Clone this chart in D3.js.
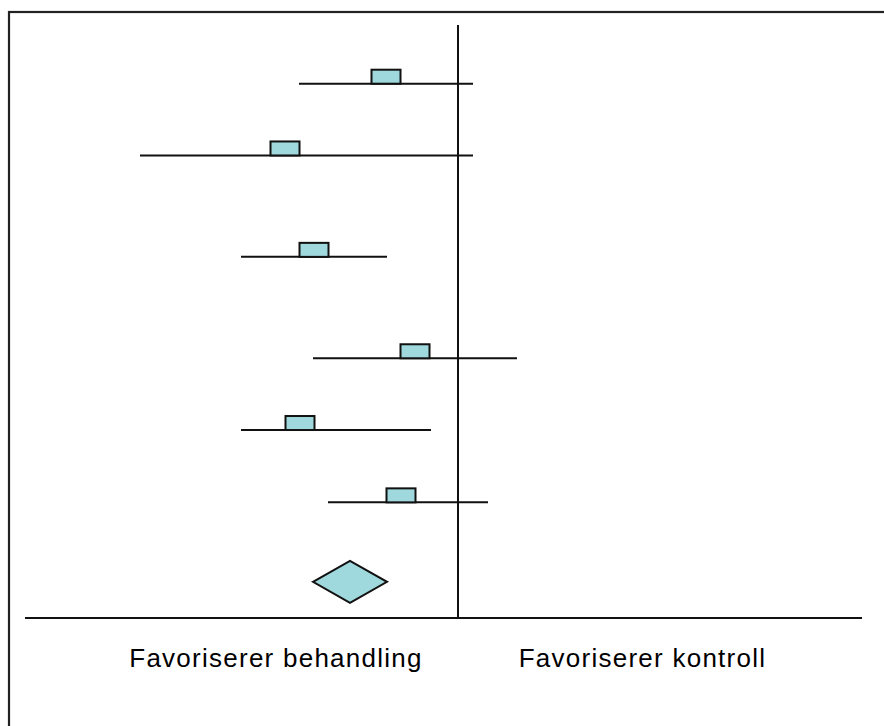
<!DOCTYPE html>
<html>
<head>
<meta charset="utf-8">
<script src="https://cdn.jsdelivr.net/npm/d3@7"></script>
<style>
  html, body { margin: 0; padding: 0; background: #fff; }
  svg { display: block; }
</style>
</head>
<body>
<svg id="chart" width="884" height="726"></svg>
<script>
// Study rows (top to bottom) - effect estimates with confidence intervals (arbitrary effect units, 0 = no effect)
const studies   = ["Studie 1", "Studie 2", "Studie 3", "Studie 4", "Studie 5", "Studie 6"];
const estimates = [-0.72, -1.73, -1.44, -0.43, -1.58, -0.57];
const lower     = [-1.59, -3.18, -2.17, -1.45, -2.17, -1.30];
const upper     = [ 0.15,  0.15, -0.71,  0.59, -0.27,  0.30];
// vertical position of each row on the plot (0 = axis, 1 = top)
const rowPos    = [0.901, 0.780, 0.609, 0.438, 0.317, 0.195];
// pooled estimate
const pooled    = { est: -1.08, lo: -1.45, hi: -0.71, pos: 0.061 };
const labels    = ["Favoriserer behandling", "Favoriserer kontroll"];
const labelPos  = [-1.82, 1.845];

const svg = d3.select("#chart");
const x = d3.scaleLinear().domain([-4.33, 4.04]).range([25, 862]);
const y = d3.scaleLinear().domain([0, 1]).range([618, 25]);

const fill = "#a0d9dd";
const stroke = "#111";

// outer frame
svg.append("rect")
  .attr("x", 9).attr("y", 12)
  .attr("width", 900).attr("height", 800)
  .attr("fill", "none").attr("stroke", "#222").attr("stroke-width", 2.2);

// horizontal axis line
svg.append("line")
  .attr("x1", x.range()[0]).attr("x2", x.range()[1])
  .attr("y1", y(0)).attr("y2", y(0))
  .attr("stroke", stroke).attr("stroke-width", 2);

// vertical no-effect line
svg.append("line")
  .attr("x1", x(0)).attr("x2", x(0))
  .attr("y1", y(1)).attr("y2", y(0))
  .attr("stroke", stroke).attr("stroke-width", 2);

const rows = studies.map((s, i) => ({ name: s, est: estimates[i], lo: lower[i], hi: upper[i], pos: rowPos[i] }));

const g = svg.selectAll("g.row").data(rows).enter().append("g").attr("class", "row");

g.append("line")
  .attr("x1", d => x(d.lo)).attr("x2", d => x(d.hi))
  .attr("y1", d => y(d.pos)).attr("y2", d => y(d.pos))
  .attr("stroke", stroke).attr("stroke-width", 2);

const sqW = 29, sqH = 14;
g.append("rect")
  .attr("x", d => x(d.est) - sqW / 2)
  .attr("y", d => y(d.pos) - sqH)
  .attr("width", sqW).attr("height", sqH)
  .attr("fill", fill).attr("stroke", stroke).attr("stroke-width", 2);

// pooled diamond
const py = y(pooled.pos), dh = 21;
svg.append("path")
  .attr("d", `M${x(pooled.lo)},${py} L${x(pooled.est)},${py - dh} L${x(pooled.hi)},${py} L${x(pooled.est)},${py + dh} Z`)
  .attr("fill", fill).attr("stroke", stroke).attr("stroke-width", 2);

// labels
svg.selectAll("text.lab").data(labels).enter().append("text")
  .attr("class", "lab")
  .attr("x", (d, i) => x(labelPos[i]))
  .attr("y", 667)
  .attr("text-anchor", "middle")
  .attr("font-family", "Liberation Sans, Arial, sans-serif")
  .attr("font-size", 26)
  .attr("letter-spacing", "1.25px")
  .attr("fill", "#000")
  .text(d => d);
</script>
</body>
</html>
